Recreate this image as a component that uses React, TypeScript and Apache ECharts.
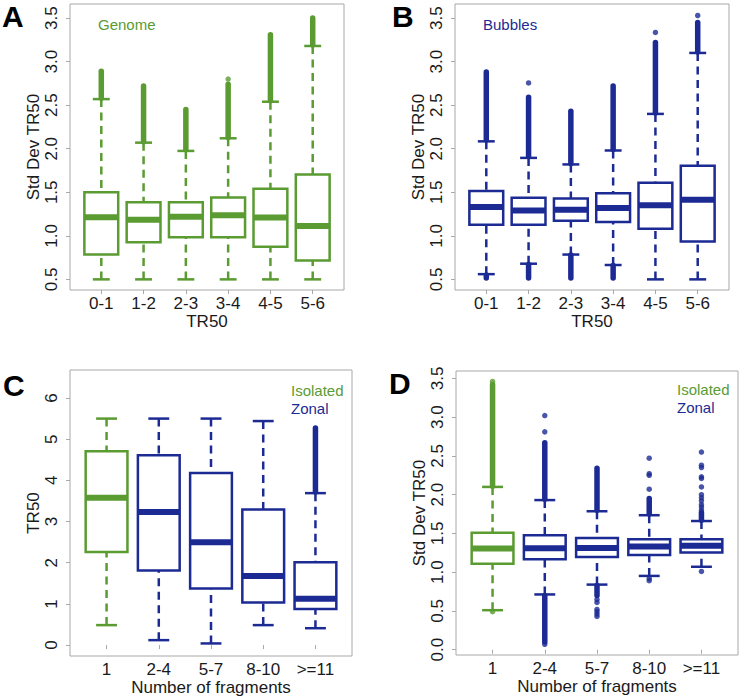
import React, { useEffect, useRef } from "react";
import * as echarts from "echarts";

// ---------- data ----------
const catsAB = ["0-1", "1-2", "2-3", "3-4", "4-5", "5-6"];
const catsCD = ["1", "2-4", "5-7", "8-10", ">=11"];

// Panel A – Genome
const aGroup = ["Genome", "Genome", "Genome", "Genome", "Genome", "Genome"];
const aLow = [0.5, 0.5, 0.5, 0.5, 0.5, 0.5];
const aQ1 = [0.787, 0.925, 0.983, 0.983, 0.875, 0.718];
const aMed = [1.213, 1.185, 1.22, 1.235, 1.21, 1.113];
const aQ3 = [1.5, 1.385, 1.385, 1.44, 1.54, 1.705];
const aHigh = [2.57, 2.07, 1.975, 2.12, 2.54, 3.18];
const aOutBands = [[1, 2.58, 2.89], [2, 2.08, 2.72], [3, 1.99, 2.45], [4, 2.13, 2.74], [5, 2.55, 3.31], [6, 3.19, 3.5]];
const aOutPoints = [[4, 2.8]];

// Panel B – Bubbles
const bGroup = ["Bubbles", "Bubbles", "Bubbles", "Bubbles", "Bubbles", "Bubbles"];
const bLow = [0.56, 0.68, 0.785, 0.665, 0.5, 0.5];
const bQ1 = [1.128, 1.128, 1.173, 1.16, 1.08, 0.935];
const bMed = [1.33, 1.29, 1.3, 1.32, 1.35, 1.415];
const bQ3 = [1.516, 1.436, 1.428, 1.49, 1.61, 1.805];
const bHigh = [2.085, 1.895, 1.82, 1.98, 2.4, 3.1];
const bOutBands = [[1, 2.1, 2.88], [1, 0.515, 0.55], [2, 1.91, 2.59], [2, 0.515, 0.67], [3, 1.83, 2.43], [3, 0.515, 0.78], [4, 1.99, 2.72], [4, 0.515, 0.66], [5, 2.41, 3.22], [6, 3.11, 3.45]];
const bOutPoints = [[2, 2.755], [5, 3.335], [6, 3.53]];

// Panel C – TR50 by number of fragments
const cGroup = ["Isolated", "Zonal", "Zonal", "Zonal", "Zonal"];
const cLow = [0.485, 0.12, 0.04, 0.485, 0.41];
const cQ1 = [2.26, 1.81, 1.375, 1.035, 0.875];
const cMed = [3.575, 3.23, 2.5, 1.675, 1.125];
const cQ3 = [4.71, 4.61, 4.18, 3.29, 2.01];
const cHigh = [5.5, 5.5, 5.5, 5.44, 3.69];
const cOutBands = [[5, 3.72, 5.27]];
const cOutPoints: number[][] = [];

// Panel D – Std Dev TR50 by number of fragments
const dGroup = ["Isolated", "Zonal", "Zonal", "Zonal", "Zonal"];
const dLow = [0.51, 0.713, 0.84, 0.952, 1.07];
const dQ1 = [1.11, 1.167, 1.197, 1.223, 1.254];
const dMed = [1.305, 1.31, 1.313, 1.333, 1.34];
const dQ3 = [1.51, 1.477, 1.44, 1.425, 1.425];
const dHigh = [2.1, 1.93, 1.786, 1.735, 1.66];
const dOutBands = [[1, 2.11, 3.42], [2, 1.94, 2.67], [2, 0.1, 0.7], [3, 1.8, 2.34], [3, 0.7, 0.83], [4, 1.75, 1.95], [5, 1.67, 1.77]];
const dOutPoints = [
  [1, 3.46], [1, 0.49],
  [2, 2.81], [2, 3.02], [2, 0.07],
  [3, 0.648], [3, 0.61], [3, 0.52], [3, 0.49], [3, 0.46], [3, 0.43],
  [4, 2.07], [4, 2.25], [4, 2.27], [4, 2.47], [4, 0.92], [4, 0.89],
  [5, 1.8], [5, 1.84], [5, 1.87], [5, 1.92], [5, 1.96], [5, 2.0], [5, 2.1], [5, 2.21], [5, 2.23], [5, 2.35], [5, 2.38], [5, 2.55], [5, 1.01],
];

const yTicksAB = [0.5, 1.0, 1.5, 2.0, 2.5, 3.0, 3.5];
const yTicksC = [0, 1, 2, 3, 4, 5, 6];
const yTicksD = [0.0, 0.5, 1.0, 1.5, 2.0, 2.5, 3.0, 3.5];

// ---------- styles ----------
const GREEN = "#5a9b32";
const BLUE = "#1c2a94";
const FRAME = "#a8a8a8";
const TEXT = "#1a1a1a";
const FONT = "'Liberation Sans', Arial, Helvetica, sans-serif";
const groupColor: Record<string, string> = { Genome: GREEN, Isolated: GREEN, Bubbles: BLUE, Zonal: BLUE };

type Panel = {
  cats: string[]; group: string[]; low: number[]; q1: number[]; med: number[]; q3: number[]; high: number[];
  bands: number[][]; points: number[][]; yTicks: number[]; yDec: number;
  xName: string; yName: string;
  left: number; top: number; width: number; height: number;
  xMin: number; xMax: number; yMin: number; yMax: number;
};

const panels: Panel[] = [
  { cats: catsAB, group: aGroup, low: aLow, q1: aQ1, med: aMed, q3: aQ3, high: aHigh, bands: aOutBands, points: aOutPoints,
    yTicks: yTicksAB, yDec: 1, xName: "TR50", yName: "Std Dev TR50",
    left: 70, top: 4, width: 274, height: 286, xMin: 0.26, xMax: 6.74, yMin: 0.378, yMax: 3.662 },
  { cats: catsAB, group: bGroup, low: bLow, q1: bQ1, med: bMed, q3: bQ3, high: bHigh, bands: bOutBands, points: bOutPoints,
    yTicks: yTicksAB, yDec: 1, xName: "TR50", yName: "Std Dev TR50",
    left: 455, top: 4, width: 274, height: 286, xMin: 0.26, xMax: 6.74, yMin: 0.378, yMax: 3.662 },
  { cats: catsCD, group: cGroup, low: cLow, q1: cQ1, med: cMed, q3: cQ3, high: cHigh, bands: cOutBands, points: cOutPoints,
    yTicks: yTicksC, yDec: 0, xName: "Number of fragments", yName: "TR50",
    left: 70, top: 370, width: 282, height: 286, xMin: 0.3, xMax: 5.7, yMin: -0.265, yMax: 6.68 },
  { cats: catsCD, group: dGroup, low: dLow, q1: dQ1, med: dMed, q3: dQ3, high: dHigh, bands: dOutBands, points: dOutPoints,
    yTicks: yTicksD, yDec: 1, xName: "Number of fragments", yName: "Std Dev TR50",
    left: 456, top: 371, width: 282, height: 284, xMin: 0.3, xMax: 5.7, yMin: -0.068, yMax: 3.595 },
];

function buildOption() {
  const grid: any[] = [];
  const xAxis: any[] = [];
  const yAxis: any[] = [];
  const series: any[] = [];

  panels.forEach((p, i) => {
    const catIdx = p.cats.map((_, k) => k + 1);
    const colOf = (x: number) => groupColor[p.group[Math.round(x) - 1]];
    grid.push({ left: p.left, top: p.top, width: p.width, height: p.height, show: true, borderColor: FRAME, borderWidth: 1, backgroundColor: "transparent" });
    xAxis.push({
      gridIndex: i, type: "value", min: p.xMin, max: p.xMax,
      axisLine: { show: false }, splitLine: { show: false },
      axisTick: { show: true, length: 4, customValues: catIdx, lineStyle: { color: FRAME } },
      axisLabel: { customValues: catIdx, formatter: (v: number) => p.cats[Math.round(v) - 1] ?? "", margin: 5, fontSize: 17, color: TEXT, fontFamily: FONT },
      name: p.xName, nameLocation: "middle", nameGap: 22,
      nameTextStyle: { fontSize: 17, color: TEXT, fontFamily: FONT },
    });
    yAxis.push({
      gridIndex: i, type: "value", min: p.yMin, max: p.yMax,
      axisLine: { show: false }, splitLine: { show: false },
      axisTick: { show: true, length: 4, customValues: p.yTicks, lineStyle: { color: FRAME } },
      axisLabel: { customValues: p.yTicks, rotate: 90, formatter: (v: number) => v.toFixed(p.yDec), margin: 10, fontSize: 17, color: TEXT, fontFamily: FONT },
      name: p.yName, nameLocation: "middle", nameRotate: 90, nameGap: 26,
      nameTextStyle: { fontSize: 17, color: TEXT, fontFamily: FONT },
    });

    // boxes
    series.push({
      type: "custom", xAxisIndex: i, yAxisIndex: i, clip: false,
      data: p.cats.map((_, k) => [k + 1, p.low[k], p.q1[k], p.med[k], p.q3[k], p.high[k]]),
      encode: { x: 0, y: [1, 2, 3, 4, 5] },
      renderItem: (params: any, api: any) => {
        const x = api.value(0);
        const col = colOf(x);
        const pl = api.coord([x, api.value(1)]);
        const p1 = api.coord([x, api.value(2)]);
        const pm = api.coord([x, api.value(3)]);
        const p3 = api.coord([x, api.value(4)]);
        const ph = api.coord([x, api.value(5)]);
        const hw = api.size([0.8, 0])[0] / 2;
        const cw = hw / 2;
        const cx = pl[0];
        const dashed = { stroke: col, lineWidth: 2.5, lineDash: [8, 5.5], fill: "none" };
        const solid = { stroke: col, lineWidth: 2.5, fill: "none" };
        return {
          type: "group",
          children: [
            { type: "line", shape: { x1: cx, y1: ph[1], x2: cx, y2: p3[1] }, style: dashed },
            { type: "line", shape: { x1: cx, y1: pl[1], x2: cx, y2: p1[1] }, style: dashed },
            { type: "line", shape: { x1: cx - cw, y1: ph[1], x2: cx + cw, y2: ph[1] }, style: solid },
            { type: "line", shape: { x1: cx - cw, y1: pl[1], x2: cx + cw, y2: pl[1] }, style: solid },
            { type: "rect", shape: { x: cx - hw, y: p3[1], width: hw * 2, height: p1[1] - p3[1] }, style: { stroke: col, lineWidth: 2.5, fill: "#ffffff" } },
            { type: "line", shape: { x1: cx - hw, y1: pm[1], x2: cx + hw, y2: pm[1] }, style: { stroke: col, lineWidth: 6 } },
          ],
        };
      },
    });

    // dense outlier runs
    if (p.bands.length) {
      series.push({
        type: "custom", xAxisIndex: i, yAxisIndex: i, clip: false,
        data: p.bands, encode: { x: 0, y: [1, 2] },
        renderItem: (params: any, api: any) => {
          const x = api.value(0);
          const a = api.coord([x, api.value(1)]);
          const b = api.coord([x, api.value(2)]);
          return { type: "line", shape: { x1: a[0], y1: a[1], x2: b[0], y2: b[1] }, style: { stroke: colOf(x), lineWidth: 5.5, lineCap: "round" } };
        },
      });
    }
    // isolated outliers
    if (p.points.length) {
      series.push({
        type: "scatter", xAxisIndex: i, yAxisIndex: i, symbol: "circle", symbolSize: 5.5,
        data: p.points,
        itemStyle: { color: (prm: any) => colOf(prm.data[0]) },
      });
    }
  });

  const letter = (t: string, x: number, y: number) => ({
    type: "text", x, y, style: { text: t, fontSize: 30, fontWeight: "bold", fontFamily: FONT, fill: "#000", align: "left", verticalAlign: "middle" },
  });
  const label = (t: string, x: number, y: number, c: string) => ({
    type: "text", x, y, style: { text: t, fontSize: 15, fontFamily: FONT, fill: c, align: "left", verticalAlign: "middle" },
  });

  return {
    animation: false,
    backgroundColor: "#ffffff",
    grid, xAxis, yAxis, series,
    graphic: [
      letter("A", 2, 16), letter("B", 392, 16), letter("C", 3, 385), letter("D", 389, 383),
      label("Genome", 98, 24, GREEN),
      label("Bubbles", 483, 24, BLUE),
      label("Isolated", 291, 390, GREEN), label("Zonal", 291, 408, BLUE),
      label("Isolated", 677, 389, GREEN), label("Zonal", 677, 407, BLUE),
    ],
  };
}

export default function App() {
  const ref = useRef<HTMLDivElement>(null);
  useEffect(() => {
    if (!ref.current) return;
    const chart = echarts.init(ref.current, undefined, { renderer: "svg" });
    chart.setOption(buildOption() as any);
    return () => chart.dispose();
  }, []);
  return <div ref={ref} style={{ position: "absolute", left: 0, top: 0, width: 740, height: 697 }} />;
}
